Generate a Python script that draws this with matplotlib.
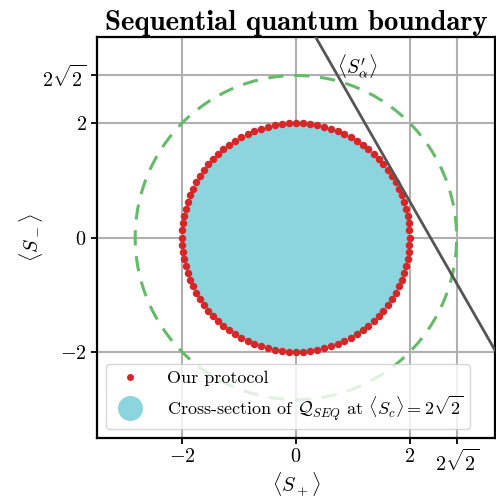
import numpy as np
import matplotlib
matplotlib.use("Agg")
import matplotlib.pyplot as plt
from matplotlib.patches import Circle
from matplotlib.lines import Line2D

plt.rcParams['font.family'] = 'serif'
plt.rcParams['font.serif'] = ['cmr10']
plt.rcParams['mathtext.fontset'] = 'cm'
plt.rcParams['axes.unicode_minus'] = False

# data
seq_radius = 2.0                 # cross-section of Q_SEQ
classical_radius = 2 * np.sqrt(2)  # dashed green circle
n_protocol = 100                 # points of our protocol on the boundary
line_dist = 2.05                 # distance of <S'_alpha> line from origin
line_angle = np.pi / 6           # normal direction of the line
tick_vals = [-2, 0, 2, 2 * np.sqrt(2)]
tick_labels = [r'$-2$', r'$0$', r'$2$', r'$2\sqrt{2}$']

fig = plt.figure(figsize=(4.96, 5.01), dpi=100)
ax = fig.add_axes([0.1956, 0.1257, 0.802, 0.8004])

ax.add_patch(Circle((0, 0), seq_radius, color='#8cd5df', zorder=1, lw=0))
ax.add_patch(Circle((0, 0), classical_radius, fill=False, ls=(0, (5, 3.5)),
                    lw=2.2, ec='#66bb6a', zorder=2))

theta = np.linspace(0, 2 * np.pi, n_protocol, endpoint=False) + np.pi / 2
ax.plot(seq_radius * np.cos(theta), seq_radius * np.sin(theta), 'o',
        color='#d62728', ms=5.4, mec='none', zorder=3)

# the line x cos(a) + y sin(a) = d
xs = np.array([-4, 4])
ys = (line_dist - xs * np.cos(line_angle)) / np.sin(line_angle)
ax.plot(xs, ys, color='#555555', lw=2, zorder=4)
ax.text(0.72, 3.0, r"$\langle S_\alpha^{\prime}\rangle$", fontsize=14, va='center', ha='left')

ax.set_xlim(-3.5, 3.5)
ax.set_ylim(-3.5, 3.5)
ax.set_xticks(tick_vals)
ax.set_xticklabels(tick_labels)
ax.set_yticks(tick_vals)
ax.set_yticklabels(tick_labels)
ax.tick_params(labelsize=14.5, width=1.3, length=4)
ax.grid(True, color='#b0b0b0', lw=1.5, zorder=0)
ax.set_axisbelow(True)
for s in ax.spines.values():
    s.set_linewidth(1.6)

ax.set_xlabel(r'$\langle S_+\rangle$', fontsize=14.5)
ax.xaxis.set_label_coords(0.5, -0.08)
ax.set_ylabel(r'$\langle S_-\rangle$', fontsize=14.5)
ax.yaxis.set_label_coords(-0.13, 0.5)
ax.set_title('Sequential quantum boundary', fontsize=20.8, fontfamily='cmb10', pad=5)

handles = [
    Line2D([], [], ls='none', marker='o', color='#d62728', ms=5, mec='none'),
    Line2D([], [], ls='none', marker='o', color='#8cd5df', ms=18, mec='none'),
]
labels = ['Our protocol',
          r'Cross-section of $\mathcal{Q}_{SEQ}$ at $\langle S_c\rangle = 2\sqrt{2}$']
ax.legend(handles, labels, loc='lower left', fontsize=13, framealpha=0.8,
          handletextpad=1.0, borderpad=0.35, labelspacing=0.4)

fig.savefig('out.png', dpi=100)
